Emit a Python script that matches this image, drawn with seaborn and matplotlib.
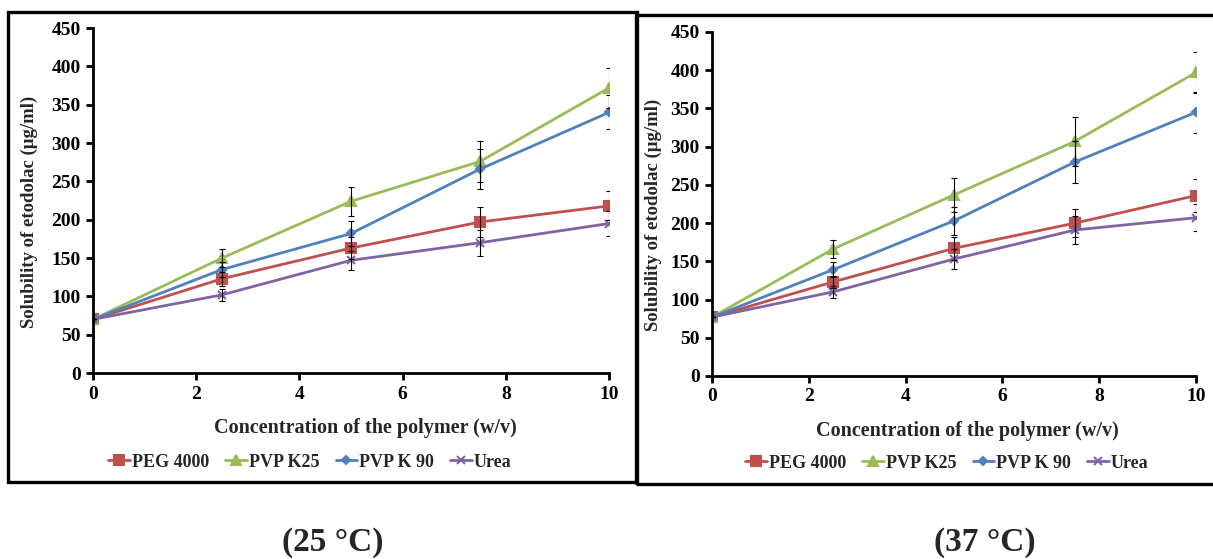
import numpy as np
import pandas as pd
import seaborn as sns
import matplotlib
matplotlib.use("Agg")
import matplotlib.pyplot as plt
from matplotlib.patches import Rectangle

# polymer concentration (w/v)
conc = [0, 2.5, 5, 7.5, 10]
polymers = ["PEG 4000", "PVP K25", "PVP K 90", "Urea"]

# solubility of etodolac (ug/ml) at 25 C
peg_25 = [70, 123, 163, 197, 218]
k25_25 = [70, 150, 224, 276, 372]
k90_25 = [70, 135, 182, 266, 340]
urea_25 = [70, 102, 147, 170, 195]
peg_25_err = [0, 9, 14, 19, 19]
k25_25_err = [0, 12, 19, 27, 26]
k90_25_err = [0, 10, 16, 26, 22]
urea_25_err = [0, 8, 12, 17, 16]

# solubility of etodolac (ug/ml) at 37 C
peg_37 = [77, 123, 167, 200, 236]
k25_37 = [77, 166, 237, 307, 397]
k90_37 = [77, 139, 203, 280, 345]
urea_37 = [77, 110, 153, 191, 207]
peg_37_err = [0, 8, 15, 18, 22]
k25_37_err = [0, 12, 22, 32, 27]
k90_37_err = [0, 10, 18, 28, 27]
urea_37_err = [0, 8, 13, 18, 18]

colors = {"PEG 4000": "#C0504D", "PVP K25": "#9BBB59",
          "PVP K 90": "#4F81BD", "Urea": "#8064A2"}
# seaborn won't mix filled and line markers, the Urea 'x' is set afterwards
markers = {"PEG 4000": "s", "PVP K25": "^", "PVP K 90": "D", "Urea": "X"}
msizes = {"PEG 4000": 6.5, "PVP K25": 6.5, "PVP K 90": 4.5, "Urea": 6}

sns.set_style("ticks")
plt.rcParams["font.family"] = ["Liberation Serif", "DejaVu Serif"]
plt.rcParams["font.weight"] = "bold"


def make_df(vals, errs):
    rows = []
    for name, v, e in zip(polymers, vals, errs):
        for c, s, err in zip(conc, v, e):
            rows.append({"conc": c, "sol": s, "err": err, "polymer": name})
    return pd.DataFrame(rows)


def draw_panel(ax, df, legend_xy, xlab_xy, ylab_xy):
    sns.lineplot(data=df, x="conc", y="sol", hue="polymer", hue_order=polymers,
                 palette=colors, style="polymer", style_order=polymers,
                 markers=markers, dashes=False, linewidth=2, legend=False, ax=ax)
    lines = list(ax.lines[:4])
    for line, name in zip(lines, polymers):
        if name == "Urea":
            line.set_marker("x")
        line.set_markeredgecolor(colors[name])
        line.set_markersize(msizes[name])
        line.set_markeredgewidth(1.5)
        line.set_label(name)
    for name in polymers:
        sub = df[df["polymer"] == name]
        ax.errorbar(sub["conc"], sub["sol"], yerr=sub["err"], fmt="none",
                    ecolor="black", elinewidth=0.8, capsize=2, capthick=0.8, zorder=4)

    ax.set_xlim(0, 10)
    ax.set_ylim(0, 450)
    ax.set_xticks(range(0, 11, 2))
    ax.set_yticks(range(0, 451, 50))
    for sp in ["top", "right"]:
        ax.spines[sp].set_visible(False)
    for sp in ["left", "bottom"]:
        ax.spines[sp].set_linewidth(2)
        ax.spines[sp].set_color("black")
    ax.tick_params(direction="out", length=5, width=2, labelsize=14, pad=4, colors="black")
    for lab in ax.get_xticklabels() + ax.get_yticklabels():
        lab.set_fontweight("bold")

    ax.set_xlabel("Concentration of the polymer (w/v)", fontsize=14.5, fontweight="bold")
    ax.set_ylabel("Solubility of etodolac (μg/ml)", fontsize=13.5, fontweight="bold")
    ax.xaxis.set_label_coords(*xlab_xy)
    ax.yaxis.set_label_coords(*ylab_xy)

    ax.legend(handles=lines, labels=polymers, loc="center", bbox_to_anchor=legend_xy,
              ncol=4, frameon=False, handlelength=1.2, handletextpad=0.1,
              columnspacing=0.9, prop={"weight": "bold", "size": 13})


fig = plt.figure(figsize=(12.13, 5.59), dpi=100)

ax1 = fig.add_axes([0.0767, 0.3327, 0.4255, 0.6172])
ax2 = fig.add_axes([0.587, 0.3274, 0.399, 0.6154])

df25 = make_df([peg_25, k25_25, k90_25, urea_25],
               [peg_25_err, k25_25_err, k90_25_err, urea_25_err])
df37 = make_df([peg_37, k25_37, k90_37, urea_37],
               [peg_37_err, k25_37_err, k90_37_err, urea_37_err])

draw_panel(ax1, df25, (0.42, -0.258), (0.527, -0.13), (-0.107, 0.467))
draw_panel(ax2, df37, (0.485, -0.253), (0.527, -0.131), (-0.103, 0.468))

# panel frames
fig.add_artist(Rectangle((0.0066, 0.1377), 0.5184, 0.8408, transform=fig.transFigure,
                         fill=False, lw=2.4, ec="black"))
fig.add_artist(Rectangle((0.524, 0.134), 0.49, 0.839, transform=fig.transFigure,
                         fill=False, lw=2.4, ec="black"))

fig.text(0.2745, 0.03, "(25 °C)", ha="center", va="center", fontsize=24, fontweight="bold")
fig.text(0.812, 0.03, "(37 °C)", ha="center", va="center", fontsize=24, fontweight="bold")

fig.savefig("out.png", dpi=100, facecolor="white")
